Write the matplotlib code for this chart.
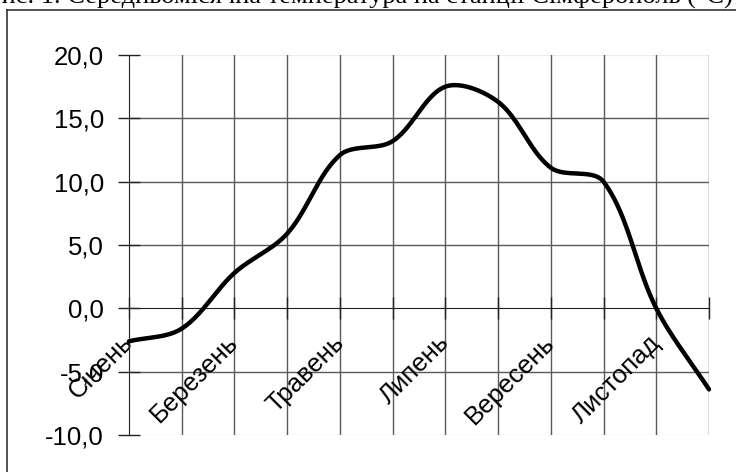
import matplotlib
matplotlib.use('Agg')
import matplotlib.pyplot as plt
from matplotlib.lines import Line2D
from matplotlib.ticker import FuncFormatter
import numpy as np

# середньомісячна температура, °C
months = ['Січень', 'Лютий', 'Березень', 'Квітень', 'Травень', 'Червень',
          'Липень', 'Серпень', 'Вересень', 'Жовтень', 'Листопад', 'Грудень']
temps = [-2.6, -1.6, 2.8, 5.9, 12.1, 13.2, 17.5, 16.3, 11.1, 10.0, 0.0, -6.4]
y_ticks = [-10, -5, 0, 5, 10, 15, 20]
title_text = 'Рис. 1. Середньомісячна температура на станції Сімферополь (°С)'


def smooth_line(ax, xs, ys, n=40):
    # згладжена лінія як в Excel: Безьє, ручки залежать від довжин відрізків (в пікселях)
    pts = ax.transData.transform(np.column_stack([xs, ys]).astype(float))
    p = np.vstack([pts[0], pts, pts[-1]])
    t = np.linspace(0, 1, n)[:, None]
    out = []
    for i in range(1, len(p) - 2):
        p0, p1, p2, p3 = p[i - 1], p[i], p[i + 1], p[i + 2]
        d01 = np.hypot(*(p1 - p0))
        d12 = np.hypot(*(p2 - p1))
        d23 = np.hypot(*(p3 - p2))
        f1 = d12 / (d01 + d12) / 3.0
        f2 = d12 / (d12 + d23) / 3.0
        c1 = p1 + (p2 - p0) * f1
        c2 = p2 - (p3 - p1) * f2
        seg = ((1 - t) ** 3) * p1 + 3 * ((1 - t) ** 2) * t * c1 \
            + 3 * (1 - t) * t ** 2 * c2 + t ** 3 * p2
        out.append(seg if i == 1 else seg[1:])
    out = ax.transData.inverted().transform(np.vstack(out))
    return out[:, 0], out[:, 1]


plt.rcParams['font.family'] = ['Liberation Sans', 'DejaVu Sans']

fig = plt.figure(figsize=(7.36, 4.72), dpi=100)
ax = fig.add_axes([129 / 736, 1 - 435 / 472, 580 / 736, 380 / 472])

x = np.arange(len(months))
ax.set_xlim(0, len(months) - 1)
ax.set_ylim(y_ticks[0], y_ticks[-1])

grid_col = '#5a5a5a'
for v in x[1:]:
    ax.axvline(v, color=grid_col, lw=1.0, zorder=1)
for v in y_ticks:
    if v in (0, y_ticks[0], y_ticks[-1]):
        continue
    ax.axhline(v, color=grid_col, lw=1.0, zorder=1)
ax.axhline(y_ticks[-1], color='#ececec', lw=1.0, zorder=0)
ax.axhline(y_ticks[0], color='#ececec', lw=1.0, zorder=0)
ax.axvline(x[-1], color='#ececec', lw=1.0, zorder=0)

sx, sy = smooth_line(ax, x, temps)
ax.plot(sx, sy, color='black', lw=3.2, solid_capstyle='round', zorder=5,
        clip_on=False)

for s in ['top', 'right']:
    ax.spines[s].set_visible(False)
ax.spines['bottom'].set_position(('data', 0))
ax.spines['bottom'].set_color('#222222')
ax.spines['left'].set_color('#222222')
ax.spines['bottom'].set_zorder(2)

ax.set_yticks(y_ticks)
ax.yaxis.set_major_formatter(FuncFormatter(lambda v, p: f'{v:.1f}'.replace('.', ',')))
ax.set_xticks(x)
ax.set_xticklabels([m if i % 2 == 0 else '' for i, m in enumerate(months)],
                   rotation=45, ha='right', va='center', rotation_mode='anchor')

ax.tick_params(axis='y', direction='inout', length=16, width=1, color='#222222',
               labelsize=18.5, pad=10)
ax.tick_params(axis='x', direction='inout', length=16, width=1, color='#222222',
               labelsize=18.5, pad=14)

# рамка діаграми
fig.add_artist(Line2D([7 / 736, 7 / 736], [0, 1 - 10 / 472], color='#333333', lw=1.2))
fig.add_artist(Line2D([7 / 736, 1], [1 - 10 / 472, 1 - 10 / 472], color='#333333', lw=1.2))

fig.text(360 / 736, 1 - 3 / 472, title_text, ha='center', va='baseline',
         fontsize=19, family='Liberation Serif')

plt.savefig('out.png', dpi=100)
